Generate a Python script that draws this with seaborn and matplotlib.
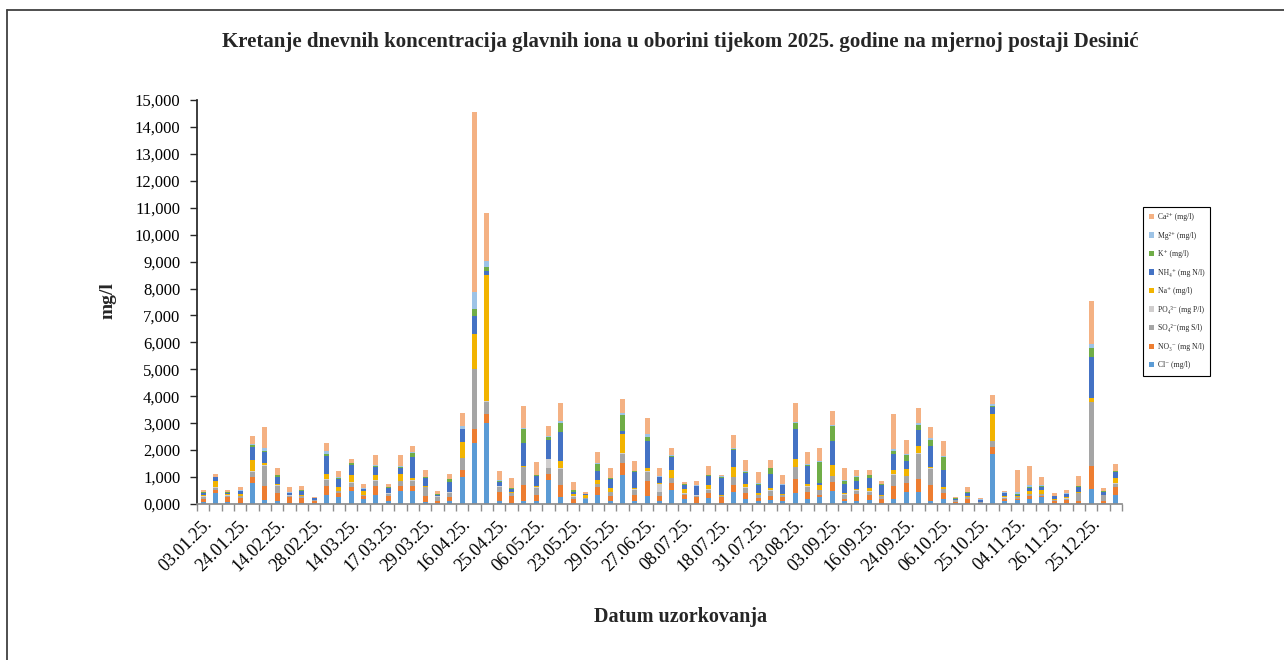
import numpy as np
import pandas as pd
import matplotlib.pyplot as plt
import seaborn as sns
from matplotlib.lines import Line2D
from matplotlib.patches import Patch
from matplotlib.ticker import FuncFormatter

# labels shown on the x axis (every 3rd sample)
tick_dates = ['03.01.25.', '24.01.25.', '14.02.25.', '28.02.25.', '14.03.25.', '17.03.25.',
              '29.03.25.', '16.04.25.', '25.04.25.', '06.05.25.', '23.05.25.', '29.05.25.',
              '27.06.25.', '08.07.25.', '18.07.25.', '31.07.25.', '23.08.25.', '03.09.25.',
              '16.09.25.', '24.09.25.', '06.10.25.', '25.10.25.', '04.11.25.', '26.11.25.',
              '25.12.25.']

# concentrations, one value per sample (75 samples)
cl = [.08, .41, .09, .04, .78, .16, .10, .04, .05, .03, .32, .26, .50, .20, .35, .12, .50, .50, .08, .03,
      .12, 1.00, 2.25, 3.00, .12, .02, .10, .12, .90, .26, .02, .18, .32, .10, 1.06, .10, .31, .10, .51, .20,
      .03, .22, .03, .43, .20, .10, .14, .10, .41, .19, .26, .47, .10, .12, .14, .04, .20, .43, .43, .12,
      .19, .03, .04, .02, 1.87, .12, .14, .20, .26, .03, .03, .04, .55, .05, .35]
no3 = [.12, .12, .16, .19, .22, .52, .31, .22, .17, .07, .33, .15, .14, .09, .33, .19, .16, .16, .22, .07,
       .14, .27, .53, .34, .31, .28, .59, .22, .22, .46, .17, .02, .31, .21, .46, .22, .56, .19, .27, .12,
       .22, .19, .22, .28, .21, .12, .17, .15, .53, .25, .09, .35, .10, .26, .21, .16, .46, .35, .50, .57,
       .22, .05, .15, .03, .25, .06, .05, .11, .05, .08, .10, .06, .86, .06, .27]
so4 = [.07, .06, .06, .06, .19, .74, .27, .05, .06, .03, .25, .08, .15, .04, .19, .07, .19, .21, .32, .17,
       .15, .43, 2.22, .46, .20, .10, .67, .27, .21, .59, .08, .03, .12, .12, .35, .21, .32, .15, .17, .06,
       .06, .12, .04, .28, .19, .12, .19, .07, .42, .20, .16, .21, .15, .12, .11, .09, .43, .25, .93, .62,
       .15, .05, .06, .02, .21, .06, .06, .06, .05, .04, .07, .30, 2.37, .21, .14]
po4 = [.01, .04, .01, .01, .02, .02, .01, .01, .01, .01, .02, .01, .01, .01, .01, .01, .01, .01, .02, .01,
       .02, .02, .01, .01, .02, .01, .02, .02, .33, .02, .01, .01, .01, .01, .02, .02, .02, .31, .01, .01,
       .01, .01, .01, .02, .02, .01, .01, .01, .02, .01, .01, .02, .01, .01, .01, .01, .02, .01, .02, .02,
       .01, .01, .01, .01, .02, .01, .02, .01, .01, .01, .01, .01, .02, .01, .01]
na = [.04, .21, .04, .06, .42, .08, .07, .02, .06, .02, .18, .14, .28, .13, .20, .03, .27, .07, .01, .01,
      .03, .59, 1.30, 4.69, .02, .03, .04, .02, .02, .25, .09, .09, .12, .14, .70, .03, .12, .02, .30, .15,
      .02, .15, .02, .36, .14, .06, .10, .05, .28, .09, .17, .40, .06, .06, .11, .04, .15, .27, .26, .05,
      .06, .01, .03, .01, .99, .04, .03, .12, .16, .03, .05, .03, .14, .02, .21]
nh4 = [.10, .15, .06, .12, .47, .40, .25, .07, .15, .05, .69, .30, .37, .07, .31, .16, .22, .80, .32, .06,
       .37, .46, .68, .16, .16, .12, .84, .40, .70, 1.08, .09, .03, .36, .33, .12, .62, 1.01, .22, .48, .16,
       .31, .35, .66, .62, .40, .31, .50, .31, 1.14, .66, .10, .90, .31, .30, .37, .37, .59, .28, .62, .79,
       .62, .05, .12, .06, .27, .10, .04, .10, .10, .09, .10, .19, 1.51, .10, .19]
k = [.02, .02, .02, .02, .09, .05, .05, .01, .02, .01, .07, .03, .06, .03, .01, .04, .01, .15, .03, .01,
     .09, .01, .26, .15, .03, .03, .52, .03, .12, .35, .05, .01, .26, .05, .58, .02, .16, .03, .04, .03,
     .02, .03, .02, .04, .03, .03, .21, .03, .20, .04, .77, .56, .12, .14, .11, .03, .12, .21, .17, .22,
     .50, .02, .02, .01, .03, .03, .04, .03, .03, .02, .02, .03, .33, .02, .04]
mg = [.01, .01, .01, .01, .05, .11, .01, .02, .01, .01, .10, .02, .01, .01, .05, .01, .04, .03, .01, .01,
      .01, .10, .61, .21, .02, .01, .03, .01, .03, .06, .02, .01, .04, .02, .07, .02, .09, .03, .03, .01,
      .02, .02, .03, .06, .03, .02, .03, .01, .06, .03, .04, .04, .03, .03, .03, .01, .06, .04, .07, .05,
      .02, .01, .01, .01, .06, .01, .06, .06, .05, .01, .02, .02, .16, .02, .03]
ca = [.07, .11, .08, .12, .28, .77, .27, .19, .13, .03, .32, .22, .15, .18, .36, .13, .42, .24, .24, .10,
      .17, .51, 6.68, 1.80, .36, .38, .83, .48, .36, .68, .27, .05, .40, .35, .55, .37, .59, .28, .25, .09,
      .17, .32, .06, .47, .43, .41, .28, .35, .70, .47, .46, .50, .46, .24, .19, .12, 1.30, .55, .55, .43,
      .58, .03, .19, .05, .36, .07, .83, .73, .31, .10, .11, .37, 1.61, .11, .24]

ions = ['Cl⁻ (mg/l)', 'NO₃⁻ (mg N/l)', 'SO₄²⁻(mg S/l)', 'PO₄³⁻ (mg P/l)', 'Na⁺ (mg/l)',
        'NH₄⁺ (mg N/l)', 'K⁺ (mg/l)', 'Mg²⁺ (mg/l)', 'Ca²⁺ (mg/l)']
colors = ['#5B9BD5', '#ED7D31', '#A5A5A5', '#D0CECE', '#F2B400',
          '#4472C4', '#70AD47', '#9DC3E6', '#F4B183']

sns.set_theme(style="white")
plt.rcParams['font.family'] = ['Liberation Serif', 'DejaVu Serif']

df = pd.DataFrame(dict(zip(ions, [cl, no3, so4, po4, na, nh4, k, mg, ca])))
sample = np.arange(len(df))
stack = df.cumsum(axis=1)

fig = plt.figure(figsize=(12.84, 6.6), dpi=100)
ax = fig.add_axes([0.1534, 0.2364, 0.7204, 0.6121])

# stacked bars: draw the cumulative totals from the top layer down
for ion, col in zip(reversed(ions), reversed(colors)):
    sns.barplot(x=sample, y=stack[ion].values, color=col, width=0.42, saturation=1,
                errorbar=None, linewidth=0, ax=ax)

ax.set_xlim(-0.5, len(df) - 0.5)
ax.set_ylim(0, 15)
ax.set_yticks(np.arange(0, 16, 1))
ax.yaxis.set_major_formatter(FuncFormatter(lambda v, p: f"{v:.3f}".replace('.', ',')))
ax.set_xticks(sample[::3])
ax.set_xticklabels(tick_dates, rotation=45, ha='right', rotation_mode='anchor')
ax.set_xticks(np.arange(-0.5, len(df), 1), minor=True)
ax.tick_params(axis='x', which='major', length=0, pad=8, labelsize=13, colors='black')
ax.tick_params(axis='x', which='minor', length=5, width=1, color='#8c8c8c', bottom=True)
ax.tick_params(axis='y', length=5, width=1, color='#262626', left=True, pad=7, labelsize=12,
               labelcolor='black')
ax.set_xlabel('')
ax.set_ylabel('')
sns.despine(ax=ax)
ax.spines['left'].set_color('#262626')
ax.spines['bottom'].set_color('#8c8c8c')
ax.grid(False)

fig.text(0.53, 0.936, 'Kretanje dnevnih koncentracija glavnih iona u oborini tijekom 2025. godine na mjernoj postaji Desinić',
         ha='center', va='center', fontsize=15, fontweight='bold')
fig.text(0.084, 0.545, 'mg/l', rotation=90, ha='center', va='center', fontsize=14, fontweight='bold')
fig.text(0.53, 0.065, 'Datum uzorkovanja', ha='center', va='center', fontsize=14.5, fontweight='bold')

handles = [Patch(facecolor=c, edgecolor='none') for c in reversed(colors)]
leg = fig.legend(handles, list(reversed(ions)), loc='upper left', bbox_to_anchor=(0.8902, 0.6864),
                 borderaxespad=0, fontsize=5.5, frameon=True, fancybox=False, edgecolor='black',
                 framealpha=1, handlelength=0.7, handleheight=0.7, handletextpad=0.4,
                 labelspacing=1.38, borderpad=0.8)
leg.get_frame().set_linewidth(0.8)

# chart frame (only top and left visible in the image)
fx = 7 / 1284
fy = 1 - 10 / 660
fig.add_artist(Line2D([fx, fx], [0, fy], transform=fig.transFigure, color='#404040', lw=1.3))
fig.add_artist(Line2D([fx, 1], [fy, fy], transform=fig.transFigure, color='#404040', lw=1.3))

fig.savefig('out.png', dpi=100)
